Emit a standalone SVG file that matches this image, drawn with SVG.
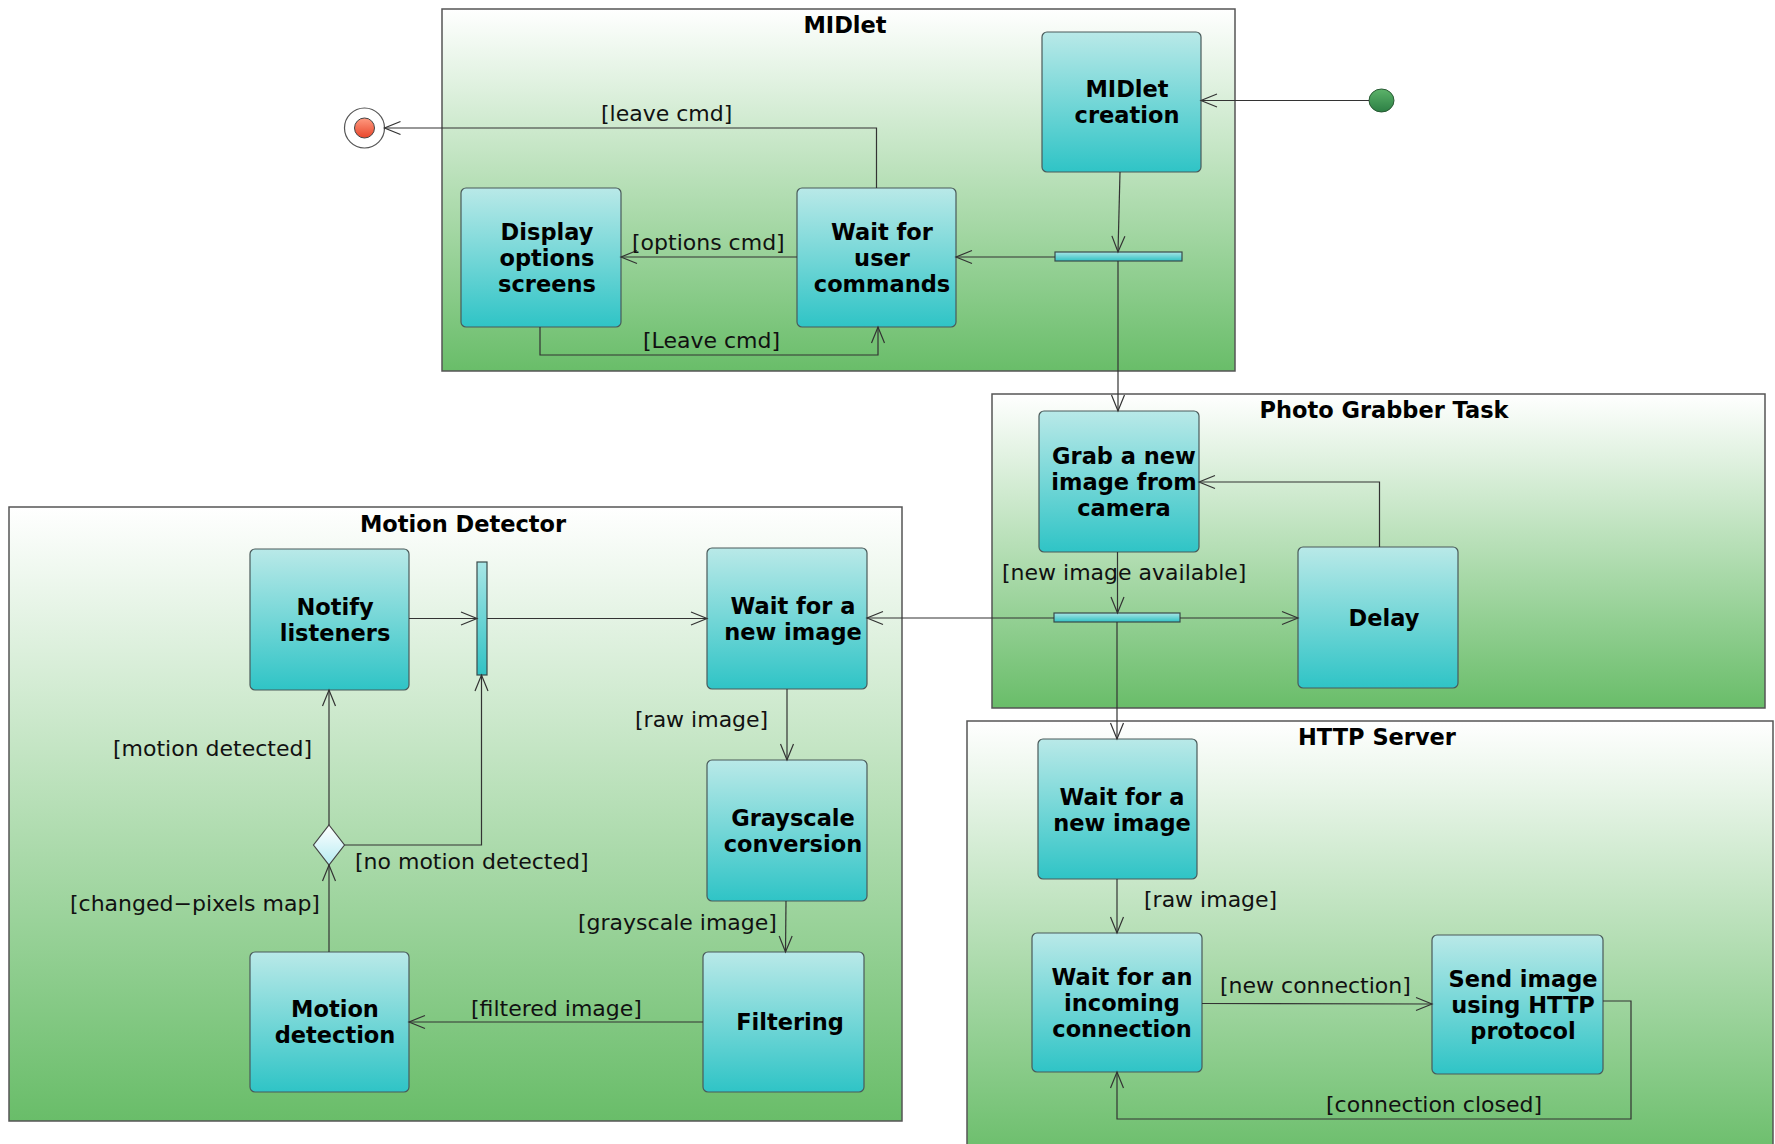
<svg xmlns="http://www.w3.org/2000/svg" width="1775" height="1144" viewBox="0 0 1775 1144">
<defs>
<linearGradient id="gFrame" x1="0" y1="0" x2="0" y2="1"><stop offset="0" stop-color="#ffffff"/><stop offset="1" stop-color="#69bd69"/></linearGradient>
<linearGradient id="gNode" x1="0" y1="0" x2="0" y2="1"><stop offset="0" stop-color="#b9e9e8"/><stop offset="1" stop-color="#2fc4c6"/></linearGradient>
<linearGradient id="gBar" x1="0" y1="0" x2="0" y2="1"><stop offset="0" stop-color="#a8e6e6"/><stop offset="1" stop-color="#30c2c4"/></linearGradient>
<linearGradient id="gDia" x1="0" y1="0" x2="0" y2="1"><stop offset="0" stop-color="#ffffff"/><stop offset="1" stop-color="#b6ecf2"/></linearGradient>
<linearGradient id="gInit" x1="0" y1="0" x2="0" y2="1"><stop offset="0" stop-color="#5cb36a"/><stop offset="1" stop-color="#2c7f44"/></linearGradient>
<linearGradient id="gEnd" x1="0" y1="0" x2="0" y2="1"><stop offset="0" stop-color="#ff9a80"/><stop offset="1" stop-color="#e8452a"/></linearGradient>
<marker id="arr" markerUnits="userSpaceOnUse" markerWidth="20" markerHeight="16" refX="16" refY="6.5" orient="auto" overflow="visible"><path d="M0,0 L16,6.5 L0,13" fill="none" stroke="#333" stroke-width="1.2"/></marker>
</defs>
<style>
.frame{fill:url(#gFrame);stroke:#555;stroke-width:1.5}
.ftitle{font-family:"DejaVu Sans",sans-serif;font-weight:bold;font-size:22.5px;fill:#000;text-anchor:middle}
.node rect{fill:url(#gNode);stroke:#4a5a5a;stroke-width:1.2}
.node text{font-family:"DejaVu Sans",sans-serif;font-weight:bold;font-size:22.5px;fill:#000;text-anchor:middle}
.bar{fill:url(#gBar);stroke:#3a4a4a;stroke-width:1.2}
.lbl{font-family:"DejaVu Sans",sans-serif;font-size:22px;fill:#111}
.edges path{fill:none;stroke:#333;stroke-width:1.2}
</style>
<rect width="1775" height="1144" fill="#ffffff"/>

<g id="frame-midlet"><rect class="frame" x="442" y="9" width="793" height="362"/><text class="ftitle" x="845" y="33">MIDlet</text></g>
<g id="frame-photo"><rect class="frame" x="992" y="394" width="773" height="314"/><text class="ftitle" x="1384" y="418">Photo Grabber Task</text></g>
<g id="frame-motion"><rect class="frame" x="9" y="507" width="893" height="614"/><text class="ftitle" x="463" y="532">Motion Detector</text></g>
<g id="frame-http"><rect class="frame" x="967" y="721" width="806" height="440"/><text class="ftitle" x="1377" y="745">HTTP Server</text></g>

<g id="initial"><ellipse cx="1381.5" cy="100.5" rx="12.5" ry="11.5" fill="url(#gInit)" stroke="#2a5a35" stroke-width="1"/></g>
<g id="final"><circle cx="364.5" cy="128" r="20" fill="#ffffff" stroke="#555" stroke-width="1.2"/><circle cx="364.5" cy="128" r="10" fill="url(#gEnd)" stroke="#444" stroke-width="1"/></g>

<g id="n-midlet-creation" class="node"><rect x="1042" y="32" width="159" height="140" rx="5"/><text x="1127" y="97">MIDlet</text><text x="1127" y="123">creation</text></g>
<g id="fork-midlet"><rect class="bar" x="1055" y="252" width="127" height="9"/></g>
<g id="n-wait-user" class="node"><rect x="797" y="188" width="159" height="139" rx="5"/><text x="882" y="240">Wait for</text><text x="882" y="266">user</text><text x="882" y="292">commands</text></g>
<g id="n-display-options" class="node"><rect x="461" y="188" width="160" height="139" rx="5"/><text x="547" y="240">Display</text><text x="547" y="266">options</text><text x="547" y="292">screens</text></g>

<g id="n-grab" class="node"><rect x="1039" y="411" width="160" height="141" rx="5"/><text x="1124" y="464">Grab a new</text><text x="1124" y="490">image from</text><text x="1124" y="516">camera</text></g>
<g id="n-delay" class="node"><rect x="1298" y="547" width="160" height="141" rx="5"/><text x="1384" y="626">Delay</text></g>
<g id="fork-photo"><rect class="bar" x="1054" y="613" width="126" height="9"/></g>

<g id="n-md-wait" class="node"><rect x="707" y="548" width="160" height="141" rx="5"/><text x="793" y="614">Wait for a</text><text x="793" y="640">new image</text></g>
<g id="n-grayscale" class="node"><rect x="707" y="760" width="160" height="141" rx="5"/><text x="793" y="826">Grayscale</text><text x="793" y="852">conversion</text></g>
<g id="n-filtering" class="node"><rect x="703" y="952" width="161" height="140" rx="5"/><text x="790" y="1030">Filtering</text></g>
<g id="n-motion-detection" class="node"><rect x="250" y="952" width="159" height="140" rx="5"/><text x="335" y="1017">Motion</text><text x="335" y="1043">detection</text></g>
<g id="n-notify" class="node"><rect x="250" y="549" width="159" height="141" rx="5"/><text x="335" y="615">Notify</text><text x="335" y="641">listeners</text></g>
<g id="join-md"><rect class="bar" x="477" y="562" width="10" height="113"/></g>
<g id="decision"><path d="M329,825 L344.5,845 L329,865 L313.5,845 Z" fill="url(#gDia)" stroke="#444" stroke-width="1.2"/></g>

<g id="n-http-wait" class="node"><rect x="1038" y="739" width="159" height="140" rx="5"/><text x="1122" y="805">Wait for a</text><text x="1122" y="831">new image</text></g>
<g id="n-incoming" class="node"><rect x="1032" y="933" width="170" height="139" rx="5"/><text x="1122" y="985">Wait for an</text><text x="1122" y="1011">incoming</text><text x="1122" y="1037">connection</text></g>
<g id="n-send" class="node"><rect x="1432" y="935" width="171" height="139" rx="5"/><text x="1523" y="987">Send image</text><text x="1523" y="1013">using HTTP</text><text x="1523" y="1039">protocol</text></g>

<g id="edges" class="edges">
<path d="M1369,100.5 L1201,100.5" marker-end="url(#arr)"/>
<path d="M1120,172 L1118,252" marker-end="url(#arr)"/>
<path d="M1055,257 L956,257" marker-end="url(#arr)"/>
<path d="M797,257 L621,257" marker-end="url(#arr)"/>
<path d="M876.5,188 L876.5,128 L384.5,128" marker-end="url(#arr)"/>
<path d="M540,327 L540,355 L878,355 L878,327" marker-end="url(#arr)"/>
<path d="M1118,261 L1118,411" marker-end="url(#arr)"/>
<path d="M1117.5,552 L1117.5,613" marker-end="url(#arr)"/>
<path d="M1180,618 L1298,618" marker-end="url(#arr)"/>
<path d="M1379.5,547 L1379.5,482 L1199,482" marker-end="url(#arr)"/>
<path d="M1054,618 L867,618" marker-end="url(#arr)"/>
<path d="M1117,622 L1117,739" marker-end="url(#arr)"/>
<path d="M787,689 L787,760" marker-end="url(#arr)"/>
<path d="M786,901 L785.5,952" marker-end="url(#arr)"/>
<path d="M703,1022 L409,1022" marker-end="url(#arr)"/>
<path d="M329,952 L329,865" marker-end="url(#arr)"/>
<path d="M329,825 L329,690" marker-end="url(#arr)"/>
<path d="M344.5,845 L481.5,845 L481.5,675" marker-end="url(#arr)"/>
<path d="M409,618.5 L477,618.5" marker-end="url(#arr)"/>
<path d="M487,618.5 L707,618.5" marker-end="url(#arr)"/>
<path d="M1117,879 L1117,933" marker-end="url(#arr)"/>
<path d="M1202,1003.5 L1432,1004" marker-end="url(#arr)"/>
<path d="M1603,1001 L1631,1001 L1631,1119 L1117,1119 L1117,1072" marker-end="url(#arr)"/>
</g>

<g id="labels">
<text class="lbl" x="601" y="121">[leave cmd]</text>
<text class="lbl" x="632" y="250">[options cmd]</text>
<text class="lbl" x="643" y="348">[Leave cmd]</text>
<text class="lbl" x="1002" y="580">[new image available]</text>
<text class="lbl" x="635" y="727">[raw image]</text>
<text class="lbl" x="578" y="930">[grayscale image]</text>
<text class="lbl" x="471" y="1016">[filtered image]</text>
<text class="lbl" x="113" y="756">[motion detected]</text>
<text class="lbl" x="355" y="869">[no motion detected]</text>
<text class="lbl" x="70" y="911">[changed−pixels map]</text>
<text class="lbl" x="1144" y="907">[raw image]</text>
<text class="lbl" x="1220" y="993">[new connection]</text>
<text class="lbl" x="1326" y="1112">[connection closed]</text>
</g>
</svg>
